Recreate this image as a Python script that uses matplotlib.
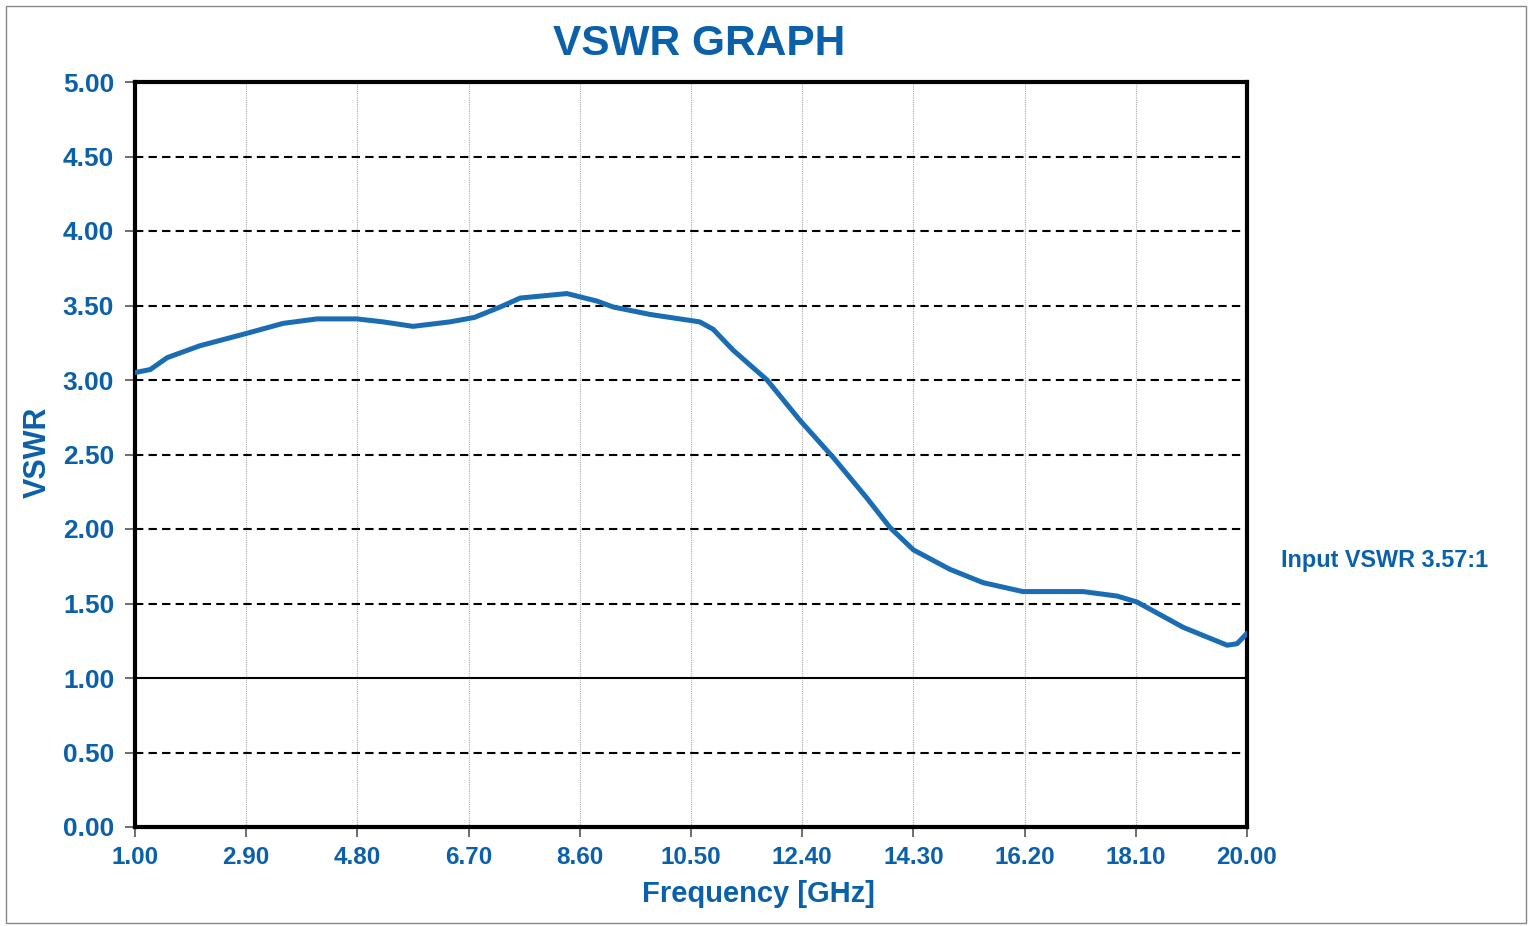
import matplotlib.pyplot as plt
from matplotlib.patches import Rectangle

# data
freq_ghz = [1.00, 1.26, 1.55, 2.11, 2.88, 3.53, 4.11, 4.79, 5.24, 5.75,
            6.38, 6.80, 7.24, 7.58, 8.38, 8.89, 9.17, 9.80, 10.31, 10.65,
            10.88, 11.22, 11.80, 12.36, 12.93, 13.50, 13.90, 14.30, 14.92, 15.49,
            16.17, 17.20, 17.78, 18.12, 18.91, 19.66, 19.83, 20.00]
vswr = [3.05, 3.07, 3.15, 3.23, 3.31, 3.38, 3.41, 3.41, 3.39, 3.36,
        3.39, 3.42, 3.49, 3.55, 3.58, 3.53, 3.49, 3.44, 3.41, 3.39,
        3.34, 3.20, 3.00, 2.73, 2.48, 2.21, 2.01, 1.86, 1.73, 1.64,
        1.58, 1.58, 1.55, 1.51, 1.34, 1.22, 1.23, 1.30]

x_ticks = [1.00, 2.90, 4.80, 6.70, 8.60, 10.50, 12.40, 14.30, 16.20, 18.10, 20.00]
y_ticks = [0.0, 0.5, 1.0, 1.5, 2.0, 2.5, 3.0, 3.5, 4.0, 4.5, 5.0]

blue_txt = "#0b60aa"
blue_line = "#1a6db3"

plt.rcParams['font.family'] = ['Liberation Sans', 'DejaVu Sans']
plt.rcParams['font.weight'] = 'bold'

fig = plt.figure(figsize=(15.32, 9.26), dpi=100)
ax = fig.add_axes([135 / 1532, 1 - 827 / 926, 1112 / 1532, 745 / 926])

# outer frame of the picture
fig.patches.append(Rectangle((0.004, 0.003), 0.992, 0.990, transform=fig.transFigure,
                             fill=False, edgecolor="#888888", linewidth=1.0))

# gridlines
for xv in x_ticks[1:-1]:
    ax.axvline(xv, color="#aaaaaa", linewidth=0.8, linestyle=(0, (1, 1)), zorder=1)
for yv in y_ticks[1:-1]:
    if yv == 1.0:
        ax.axhline(yv, color="black", linewidth=1.5, zorder=1)
    else:
        ax.axhline(yv, color="black", linewidth=1.5, linestyle=(0, (4, 2.5)), zorder=1)

ax.plot(freq_ghz, vswr, color=blue_line, linewidth=3.6, zorder=3,
        solid_capstyle='round', solid_joinstyle='round')

ax.set_xlim(1.0, 20.0)
ax.set_ylim(0.0, 5.0)
ax.set_xticks(x_ticks)
ax.set_yticks(y_ticks)
ax.set_xticklabels([f"{v:.2f}" for v in x_ticks])
ax.set_yticklabels([f"{v:.2f}" for v in y_ticks])
ax.tick_params(axis='x', labelsize=17.5, labelcolor=blue_txt, length=7, width=1.2,
               color="#555555", pad=7)
ax.tick_params(axis='y', labelsize=19, labelcolor=blue_txt, length=7, width=1.2,
               color="#555555", pad=8)
for lbl in ax.get_xticklabels() + ax.get_yticklabels():
    lbl.set_fontweight('bold')

for sp in ax.spines.values():
    sp.set_linewidth(3)
    sp.set_color("black")

fig.text(699 / 1532, 1 - 44 / 926, "VSWR GRAPH", ha='center', va='center',
         fontsize=30.5, fontweight='bold', color=blue_txt)
fig.text(758 / 1532, 1 - 894 / 926, "Frequency [GHz]", ha='center', va='center',
         fontsize=21, fontweight='bold', color=blue_txt)
fig.text(38 / 1532, 1 - 452 / 926, "VSWR", ha='center', va='center', rotation=90,
         fontsize=22, fontweight='bold', color=blue_txt)
fig.text(1281 / 1532, 1 - 560 / 926, "Input VSWR 3.57:1", ha='left', va='center',
         fontsize=16.8, fontweight='bold', color=blue_txt)

fig.savefig("out.png", dpi=100)
